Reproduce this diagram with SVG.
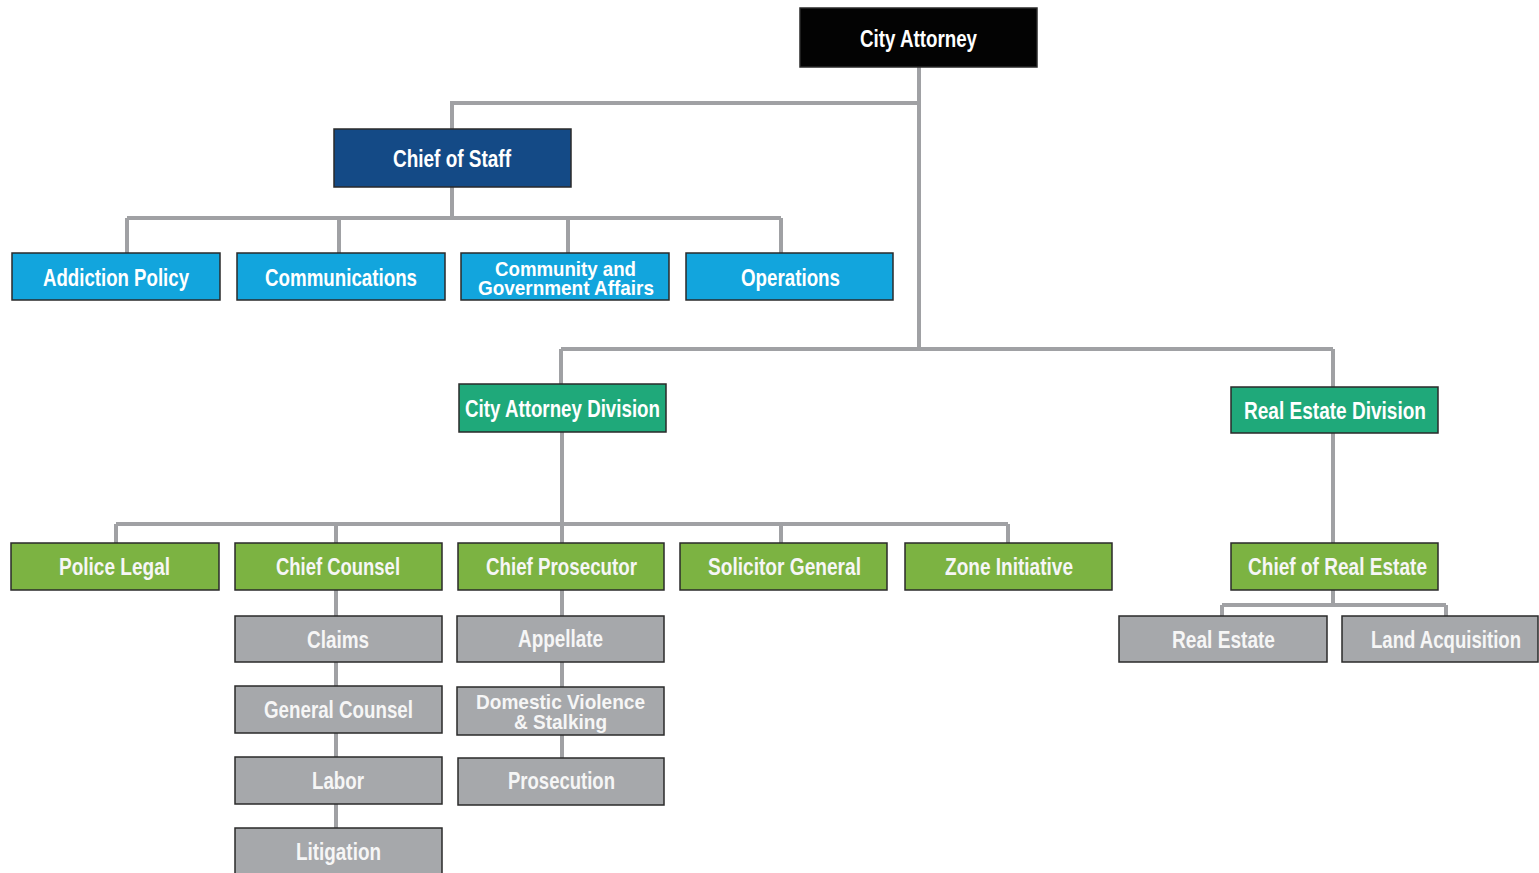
<svg xmlns="http://www.w3.org/2000/svg" width="1539" height="873" viewBox="0 0 1539 873">
<style>
.box{stroke:#2a2a2a;stroke-width:1.5}
.blk{fill:#030303}
.navy{fill:#144a86}
.blue{fill:#12a5dd}
.teal{fill:#1fa97a}
.grn{fill:#7cb342}
.gry{fill:#a6a8ab}
.t{font-family:"Liberation Sans",Arial,sans-serif;font-weight:bold;font-size:24px;fill:#ffffff;text-anchor:middle}
.t2{font-size:21px}
.lt{fill:#f6f6f6}
.conn{fill:none;stroke:#a0a1a4;stroke-width:4}
</style>
<rect width="1539" height="873" fill="#ffffff"/>
<g id="connectors" class="conn">
<path d="M919 67V349M919 103H452V129"/>
<path d="M452 187V218M127 218H781M127 218V253M339 218V253M568 218V253M781 218V253"/>
<path d="M561 349H1333M561 349V384M1333 349V387"/>
<path d="M562 432V543M116 524H1008M116 524V543M336 524V543M781 524V543M1008 524V543"/>
<path d="M1333 433V543M1333 590V605M1222 605H1446M1222 605V616M1446 605V616"/>
<path d="M336 590V828"/>
<path d="M562 590V758"/>
</g>
<g id="city-attorney"><rect class="box blk" x="800" y="8" width="237" height="59"/><text class="t" x="918.5" y="47" textLength="117" lengthAdjust="spacingAndGlyphs">City Attorney</text></g>
<g id="chief-of-staff"><rect class="box navy" x="334" y="129" width="237" height="58"/><text class="t" x="452" y="167" textLength="118" lengthAdjust="spacingAndGlyphs">Chief of Staff</text></g>
<g id="addiction-policy"><rect class="box blue" x="12" y="253" width="208" height="47"/><text class="t" x="116" y="286" textLength="146" lengthAdjust="spacingAndGlyphs">Addiction Policy</text></g>
<g id="communications"><rect class="box blue" x="237" y="253" width="208" height="47"/><text class="t" x="341" y="286" textLength="152" lengthAdjust="spacingAndGlyphs">Communications</text></g>
<g id="community-government-affairs"><rect class="box blue" x="461" y="253" width="208" height="47"/><text class="t t2" x="565.5" y="276" textLength="141" lengthAdjust="spacingAndGlyphs">Community and</text><text class="t t2" x="566" y="295" textLength="176" lengthAdjust="spacingAndGlyphs">Government Affairs</text></g>
<g id="operations"><rect class="box blue" x="686" y="253" width="207" height="47"/><text class="t" x="790.5" y="286" textLength="99" lengthAdjust="spacingAndGlyphs">Operations</text></g>
<g id="city-attorney-division"><rect class="box teal" x="459" y="384" width="207" height="48"/><text class="t" x="562.5" y="417" textLength="195" lengthAdjust="spacingAndGlyphs">City Attorney Division</text></g>
<g id="real-estate-division"><rect class="box teal" x="1231" y="387" width="207" height="46"/><text class="t" x="1335" y="419" textLength="182" lengthAdjust="spacingAndGlyphs">Real Estate Division</text></g>
<g id="police-legal"><rect class="box grn" x="11" y="543" width="208" height="47"/><text class="t lt" x="114.5" y="575" textLength="111" lengthAdjust="spacingAndGlyphs">Police Legal</text></g>
<g id="chief-counsel"><rect class="box grn" x="235" y="543" width="207" height="47"/><text class="t lt" x="338" y="575" textLength="124" lengthAdjust="spacingAndGlyphs">Chief Counsel</text></g>
<g id="chief-prosecutor"><rect class="box grn" x="458" y="543" width="206" height="47"/><text class="t lt" x="561.5" y="575" textLength="151" lengthAdjust="spacingAndGlyphs">Chief Prosecutor</text></g>
<g id="solicitor-general"><rect class="box grn" x="680" y="543" width="207" height="47"/><text class="t lt" x="784.5" y="575" textLength="153" lengthAdjust="spacingAndGlyphs">Solicitor General</text></g>
<g id="zone-initiative"><rect class="box grn" x="905" y="543" width="207" height="47"/><text class="t lt" x="1009" y="575" textLength="128" lengthAdjust="spacingAndGlyphs">Zone Initiative</text></g>
<g id="chief-of-real-estate"><rect class="box grn" x="1231" y="543" width="207" height="47"/><text class="t lt" x="1337.5" y="575" textLength="179" lengthAdjust="spacingAndGlyphs">Chief of Real Estate</text></g>
<g id="real-estate"><rect class="box gry" x="1119" y="616" width="208" height="46"/><text class="t lt" x="1223.5" y="648" textLength="103" lengthAdjust="spacingAndGlyphs">Real Estate</text></g>
<g id="land-acquisition"><rect class="box gry" x="1342" y="616" width="196" height="46"/><text class="t lt" x="1446" y="648" textLength="150" lengthAdjust="spacingAndGlyphs">Land Acquisition</text></g>
<g id="claims"><rect class="box gry" x="235" y="616" width="207" height="46"/><text class="t lt" x="338" y="648" textLength="62" lengthAdjust="spacingAndGlyphs">Claims</text></g>
<g id="general-counsel"><rect class="box gry" x="235" y="686" width="207" height="47"/><text class="t lt" x="338.5" y="718" textLength="149" lengthAdjust="spacingAndGlyphs">General Counsel</text></g>
<g id="labor"><rect class="box gry" x="235" y="757" width="207" height="47"/><text class="t lt" x="338" y="789" textLength="52" lengthAdjust="spacingAndGlyphs">Labor</text></g>
<g id="litigation"><rect class="box gry" x="235" y="828" width="207" height="50"/><text class="t lt" x="338.5" y="860" textLength="85" lengthAdjust="spacingAndGlyphs">Litigation</text></g>
<g id="appellate"><rect class="box gry" x="457" y="616" width="207" height="46"/><text class="t lt" x="560.5" y="647" textLength="85" lengthAdjust="spacingAndGlyphs">Appellate</text></g>
<g id="domestic-violence-stalking"><rect class="box gry" x="457" y="687" width="207" height="48"/><text class="t t2 lt" x="560.5" y="709" textLength="169" lengthAdjust="spacingAndGlyphs">Domestic Violence</text><text class="t t2 lt" x="560.5" y="729" textLength="93" lengthAdjust="spacingAndGlyphs">&amp; Stalking</text></g>
<g id="prosecution"><rect class="box gry" x="458" y="758" width="206" height="47"/><text class="t lt" x="561.5" y="789" textLength="107" lengthAdjust="spacingAndGlyphs">Prosecution</text></g>
</svg>
